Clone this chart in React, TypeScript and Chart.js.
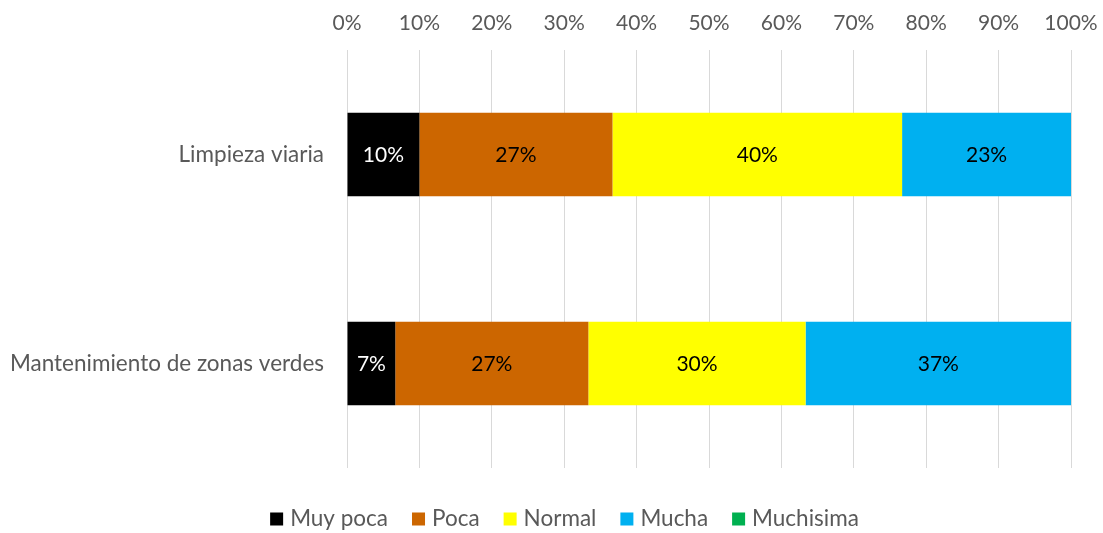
import React, { useEffect, useRef } from "react";
import { Chart, registerables } from "chart.js";

Chart.register(...registerables);

const categories = ["Limpieza viaria", "Mantenimiento de zonas verdes"];
const seriesNames = ["Muy poca", "Poca", "Normal", "Mucha", "Muchisima"];
const muyPoca = [10, 6.67];
const poca = [26.67, 26.67];
const normal = [40, 30];
const mucha = [23.33, 36.67];
const muchisima = [0, 0];
const seriesColors = ["#000000", "#CC6600", "#FFFF00", "#00B0F0", "#00B050"];
const labelColors = ["#FFFFFF", "#000000", "#000000", "#000000", "#000000"];
const xTicks = [0, 10, 20, 30, 40, 50, 60, 70, 80, 90, 100];

const FONT = "Lato, 'Open Sans', sans-serif";
const TEXT_GRAY = "#595959";

const dataLabelPlugin = {
  id: "dataLabels",
  afterDatasetsDraw(chart: any) {
    const ctx = chart.ctx;
    ctx.save();
    ctx.font = `21px ${FONT}`;
    ctx.textAlign = "center";
    ctx.textBaseline = "middle";
    chart.data.datasets.forEach((ds: any, di: number) => {
      const meta = chart.getDatasetMeta(di);
      meta.data.forEach((el: any, i: number) => {
        const v = ds.data[i];
        if (!v) return;
        const cx = (el.x + el.base) / 2;
        ctx.fillStyle = labelColors[di];
        ctx.fillText(Math.round(v) + "%", cx, el.y + 1);
      });
    });
    ctx.restore();
  },
};

const legendPlugin = {
  id: "customLegend",
  afterDraw(chart: any) {
    const ctx = chart.ctx;
    ctx.save();
    ctx.font = `22.5px ${FONT}`;
    ctx.textBaseline = "middle";
    ctx.textAlign = "left";
    const box = 13;
    const gapText = 7;
    const gapItem = 24;
    const items = chart.data.datasets.map((ds: any) => ({
      label: ds.label,
      color: ds.backgroundColor,
      w: ctx.measureText(ds.label).width,
    }));
    const total = items.reduce((s: number, it: any) => s + box + gapText + it.w, 0) + gapItem * (items.length - 1);
    let x = chart.width / 2 + 13 - total / 2;
    const cy = 519;
    items.forEach((it: any) => {
      ctx.fillStyle = it.color;
      ctx.fillRect(x, cy - box / 2, box, box);
      x += box + gapText;
      ctx.fillStyle = TEXT_GRAY;
      ctx.fillText(it.label, x, cy);
      x += it.w + gapItem;
    });
    ctx.restore();
  },
};

export default function App() {
  const ref = useRef<HTMLCanvasElement | null>(null);
  useEffect(() => {
    if (!ref.current) return;
    const values = [muyPoca, poca, normal, mucha, muchisima];
    const chart = new Chart(ref.current, {
      type: "bar",
      data: {
        labels: categories,
        datasets: seriesNames.map((name, i) => ({
          label: name,
          data: values[i],
          backgroundColor: seriesColors[i],
          borderWidth: 0,
          barPercentage: 0.4,
          categoryPercentage: 1,
        })),
      },
      options: {
        indexAxis: "y",
        responsive: false,
        animation: false,
        devicePixelRatio: 1,
        layout: { padding: { top: 0, right: 32, bottom: 65, left: 0 } },
        plugins: {
          legend: { display: false },
          tooltip: { enabled: false },
        },
        scales: {
          x: {
            position: "top",
            stacked: true,
            min: 0,
            max: 100,
            afterFit(scale: any) {
              scale.height = 50;
              scale.paddingLeft = 0;
              scale.paddingRight = 0;
            },
            afterBuildTicks(scale: any) {
              scale.ticks = xTicks.map((v) => ({ value: v }));
            },
            ticks: {
              callback: (v: any) => v + "%",
              color: TEXT_GRAY,
              font: { family: FONT, size: 21 },
              padding: 14,
              maxRotation: 0,
            },
            grid: { color: "#D9D9D9", lineWidth: 1, drawTicks: false },
            border: { display: false },
          },
          y: {
            stacked: true,
            afterFit(scale: any) {
              scale.width = 347;
            },
            ticks: {
              color: TEXT_GRAY,
              font: { family: FONT, size: 22.5 },
              padding: 23,
            },
            grid: { display: false, drawTicks: false },
            border: { display: false },
          },
        },
      },
      plugins: [dataLabelPlugin, legendPlugin],
    } as any);
    return () => chart.destroy();
  }, []);
  return (
    <div style={{ position: "absolute", left: 0, top: 0, width: 1103, height: 533, background: "#fff" }}>
      <canvas ref={ref} width={1103} height={533} />
    </div>
  );
}
